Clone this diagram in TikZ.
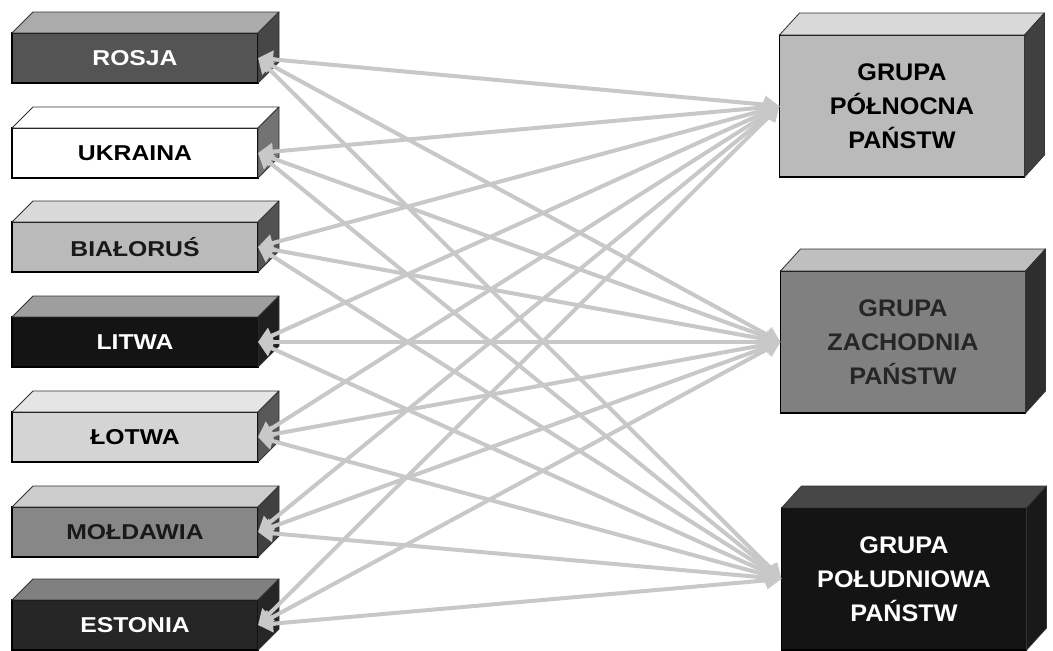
\documentclass[tikz,border=0pt]{standalone}
\usepackage{fontspec}
\setmainfont{Liberation Sans}
\newfontfamily\lfont[FakeStretch=1.15]{Liberation Sans}
\newfontfamily\rfont[FakeStretch=1.05]{Liberation Sans}
\usetikzlibrary{calc,arrows.meta}
\definecolor{arrowgray}{HTML}{C8C8C8}
\newcommand\depthfaces[5]{%
  \filldraw[fill=#2, draw=black!80, line width=0.8pt, line join=round]
    (#1.north west) -- ++(#4,-#5) -- ($(#1.north east)+(#4,-#5)$) -- (#1.north east) -- cycle;
  \filldraw[fill=#3, draw=black!80, line width=0.8pt, line join=round]
    (#1.north east) -- ++(#4,-#5) -- ($(#1.south east)+(#4,-#5)$) -- (#1.south east) -- cycle;
}
\begin{document}
\begin{tikzpicture}[x=1pt,y=-1pt,
  lbox/.style={draw=black, line width=1.4pt, minimum width=246pt, minimum height=50pt,
    inner sep=0pt, outer sep=0pt, font=\lfont\fontsize{21.5}{24}\selectfont\bfseries},
  rbox/.style={draw=black, line width=1.4pt, minimum width=245pt, minimum height=142pt,
    inner sep=0pt, outer sep=0pt, align=center, font=\rfont\fontsize{24}{34}\selectfont\bfseries},
  conn/.style={draw=arrowgray, line width=4pt,
    {Triangle[length=15pt,width=17pt]}-{Triangle[length=15pt,width=17pt]}}]
\useasboundingbox (0,0) rectangle (1053,651);
\fill[white] (0,0) rectangle (1053,651);

% left boxes
\node[lbox, fill=black!67, text=white] (ros) at (135,58) {ROSJA};
\depthfaces{ros}{black!33}{black!72}{21}{21}
\node[lbox, fill=white, text=black] (ukr) at (135,153) {UKRAINA};
\depthfaces{ukr}{white}{black!55}{21}{21}
\node[lbox, fill=black!27, text=black!90] (bia) at (135,247) {BIAŁORUŚ};
\depthfaces{bia}{black!15}{black!68}{21}{21}
\node[lbox, fill=black!92, text=white] (lit) at (135,342) {LITWA};
\depthfaces{lit}{black!38}{black!88}{21}{21}
\node[lbox, fill=black!17, text=black] (lot) at (135,437) {ŁOTWA};
\depthfaces{lot}{black!10}{black!65}{21}{21}
\node[lbox, fill=black!47, text=black!90] (mol) at (135,532) {MOŁDAWIA};
\depthfaces{mol}{black!20}{black!75}{21}{21}
\node[lbox, fill=black!85, text=white] (est) at (135,625) {ESTONIA};
\depthfaces{est}{black!50}{black!85}{21}{21}

% right boxes
\node[rbox, fill=black!27, text=black] (pn) at (902,106) {GRUPA\\PÓŁNOCNA\\PAŃSTW};
\depthfaces{pn}{black!15}{black!75}{20}{22}
\node[rbox, fill=black!50, text=black!85] (za) at (903,342) {GRUPA\\ZACHODNIA\\PAŃSTW};
\depthfaces{za}{black!25}{black!82}{20}{22}
\node[rbox, fill=black!92, text=white] (po) at (904,579) {GRUPA\\POŁUDNIOWA\\PAŃSTW};
\depthfaces{po}{black!72}{black!90}{20}{22}

% connectors
\foreach \l in {ros,ukr,bia,lit,lot,mol,est}{
  \foreach \r in {pn,za,po}{
    \draw[conn] (\l.east) -- (\r.west);
  }
}
\end{tikzpicture}
\end{document}
